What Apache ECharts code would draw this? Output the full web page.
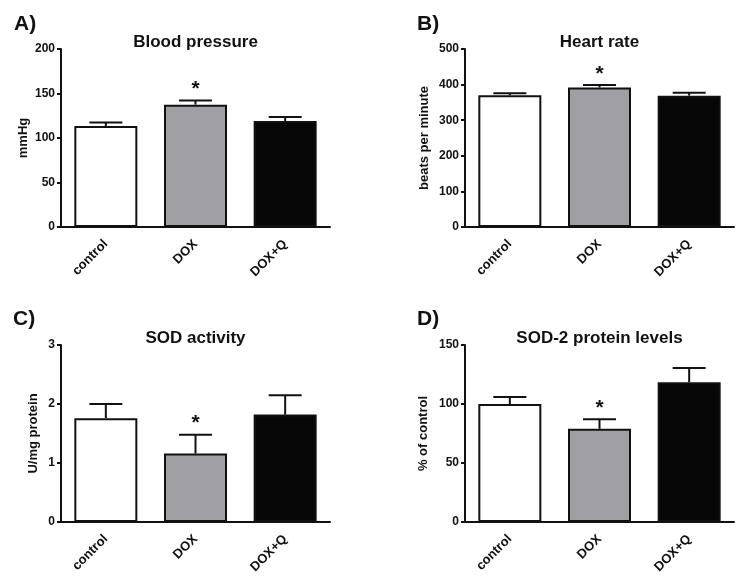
<!DOCTYPE html>
<html>
<head>
<meta charset="utf-8">
<script src="https://cdn.jsdelivr.net/npm/echarts@6/dist/echarts.min.js"></script>
<style>
html,body{margin:0;padding:0;background:#fff;}
#c{width:745px;height:588px;}
</style>
</head>
<body>
<div id="c"></div>
<script>
// ---- data ----
const categories = ['control', 'DOX', 'DOX+Q'];
const barColors = ['#ffffff', '#a0a0a4', '#070707'];
const starFlags = [0, 1, 0];

const bpMean = [113.5, 137.5, 119];
const bpErr = [4, 4.5, 4.5];

const hrMean = [370, 392, 369];
const hrErr = [6, 7, 8];

const sodMean = [1.76, 1.16, 1.82];
const sodErr = [0.24, 0.32, 0.33];

const sod2Mean = [100, 79, 118.5];
const sod2Err = [6, 8, 12];

const panelLetters = ['A)', 'B)', 'C)', 'D)'];
const panelTitles = ['Blood pressure', 'Heart rate', 'SOD activity', 'SOD-2 protein levels'];
const yNames = ['mmHg', 'beats per minute', 'U/mg protein', '% of control'];
const yMax = [200, 500, 3, 150];
const yInterval = [50, 100, 1, 50];
// ---- layout ----
const FONT = 'Liberation Sans, Arial, sans-serif';
const grids = [
  {left: 61, top: 49, width: 269, height: 178},
  {left: 465, top: 49, width: 269, height: 178},
  {left: 61, top: 345, width: 269, height: 177},
  {left: 465, top: 345, width: 269, height: 177}
];
const nameGaps = [31, 34, 21, 35];
const letterPos = [[14, 14], [417, 14], [13, 309], [417, 309]];
const titleTops = [34, 34, 330, 330];

const means = [bpMean, hrMean, sodMean, sod2Mean];
const errs = [bpErr, hrErr, sodErr, sod2Err];

const titles = [];
const xAxes = [];
const yAxes = [];
const series = [];

for (let k = 0; k < 4; k++) {
  const g = grids[k];
  titles.push({
    text: panelLetters[k], left: letterPos[k][0], top: letterPos[k][1], padding: 0,
    textStyle: {fontFamily: FONT, fontWeight: 'bold', fontSize: 21, color: '#111'}
  });
  titles.push({
    text: panelTitles[k], left: g.left + g.width / 2, top: titleTops[k], padding: 0,
    textAlign: 'center',
    textStyle: {fontFamily: FONT, fontWeight: 'bold', fontSize: 17, color: '#111'}
  });
  xAxes.push({
    type: 'category', gridIndex: k, data: categories,
    axisLine: {lineStyle: {color: '#111', width: 2}},
    axisTick: {alignWithLabel: true, length: 5, lineStyle: {color: '#111', width: 2}},
    axisLabel: {rotate: 45, margin: 15, fontFamily: FONT, fontWeight: 'bold', fontSize: 13, color: '#111'}
  });
  yAxes.push({
    type: 'value', gridIndex: k, min: 0, max: yMax[k], interval: yInterval[k],
    name: yNames[k], nameLocation: 'middle', nameGap: nameGaps[k],
    nameTextStyle: {fontFamily: FONT, fontWeight: 'bold', fontSize: 13, color: '#111'},
    axisLine: {show: true, lineStyle: {color: '#111', width: 2}},
    axisTick: {show: true, length: 4, lineStyle: {color: '#111', width: 2}},
    axisLabel: {margin: 6, fontFamily: FONT, fontWeight: 'bold', fontSize: 12, color: '#111'},
    splitLine: {show: false}
  });
  series.push({
    type: 'bar', xAxisIndex: k, yAxisIndex: k, barWidth: 63,
    data: means[k].map((v, i) => ({
      value: v,
      itemStyle: {color: barColors[i], borderColor: '#111', borderWidth: 2}
    })),
    silent: true, animation: false
  });
  series.push({
    type: 'custom', xAxisIndex: k, yAxisIndex: k, z: 5, animation: false,
    data: means[k].map((v, i) => [i, v, errs[k][i], starFlags[i]]),
    encode: {x: 0, y: 1},
    renderItem: function (params, api) {
      const i = api.value(0), m = api.value(1), e = api.value(2), s = api.value(3);
      const p0 = api.coord([i, m]);
      const p1 = api.coord([i, m + e]);
      const half = 16.5;
      const st = {stroke: '#111', lineWidth: 2};
      const children = [
        {type: 'line', shape: {x1: p0[0], y1: p0[1], x2: p1[0], y2: p1[1]}, style: st},
        {type: 'line', shape: {x1: p1[0] - half, y1: p1[1], x2: p1[0] + half, y2: p1[1]}, style: st}
      ];
      if (s) {
        children.push({
          type: 'text',
          style: {
            text: '*', x: p1[0], y: p1[1] - 11, align: 'center', verticalAlign: 'middle',
            font: 'bold 21px ' + FONT, fill: '#111'
          }
        });
      }
      return {type: 'group', children: children};
    }
  });
}

const chart = echarts.init(document.getElementById('c'), null, {renderer: 'canvas'});
chart.setOption({
  backgroundColor: '#ffffff',
  animation: false,
  title: titles,
  grid: grids,
  xAxis: xAxes,
  yAxis: yAxes,
  series: series
});
</script>
</body>
</html>
